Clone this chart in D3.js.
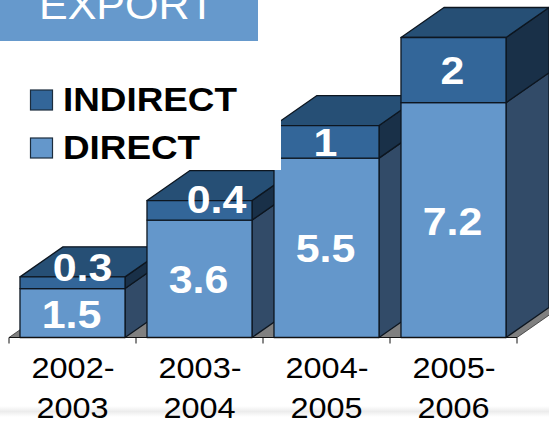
<!DOCTYPE html>
<html>
<head>
<meta charset="utf-8">
<script src="https://cdn.jsdelivr.net/npm/d3@7"></script>
<style>
  body { margin: 0; background: #fff; overflow: hidden; }
  text { font-family: "Liberation Sans", Arial, sans-serif; }
</style>
</head>
<body>
<div id="chart"></div>
<script>
const years = [["2002-", "2003"], ["2003-", "2004"], ["2004-", "2005"], ["2005-", "2006"]];
const direct = [1.5, 3.6, 5.5, 7.2];
// heights of the indirect segments as drawn, the printed labels differ on the small ones
const indirect = [0.36, 0.6, 1, 2];
const directLabels = ["1.5", "3.6", "5.5", "7.2"];
const indirectLabels = ["0.3", "0.4", "1", "2"];
const legendNames = ["INDIRECT", "DIRECT"];

const width = 549, height = 421;
const depthX = 43, depthY = 30;
const stretch = 1.1; // the picture is a bit wider than tall

const colors = {
  direct: {front: "#6497CB", side: "#324B68"},
  indirect: {front: "#336699", side: "#193048", top: "#264F75"}
};

const svg = d3.select("#chart").append("svg")
  .attr("width", width)
  .attr("height", height)
  .style("display", "block");

const fade = svg.append("defs").append("linearGradient")
  .attr("id", "fade").attr("x1", 0).attr("x2", 0).attr("y1", 0).attr("y2", 1);
fade.append("stop").attr("offset", "0%").attr("stop-color", "#fff");
fade.append("stop").attr("offset", "50%").attr("stop-color", "#ececec");
fade.append("stop").attr("offset", "100%").attr("stop-color", "#fff");

const x = d3.scaleBand().domain(d3.range(years.length)).range([9, 517])
  .paddingInner(0.173).paddingOuter(0.0865);
const y = d3.scaleLinear().domain([0, 9.2]).range([337.5, 37.5]);
const baseY = y(0);

// strip at the bottom of the slide
svg.append("rect").attr("x", 0).attr("y", 406).attr("width", width).attr("height", 11)
  .attr("fill", "url(#fade)");

// floor
svg.append("polygon")
  .attr("points", [[9, baseY], [9 + depthX, baseY - depthY], [517 + depthX, baseY - depthY], [517, baseY]].join(" "))
  .attr("fill", "#808080")
  .attr("stroke", "#333")
  .attr("stroke-width", 0.8);

function box(g, x0, x1, yBottom, yTop, c) {
  g.append("polygon")
    .attr("points", [[x1, yBottom], [x1 + depthX, yBottom - depthY], [x1 + depthX, yTop - depthY], [x1, yTop]].join(" "))
    .attr("fill", c.side);
  if (c.top) {
    g.append("polygon")
      .attr("points", [[x0, yTop], [x0 + depthX, yTop - depthY], [x1 + depthX, yTop - depthY], [x1, yTop]].join(" "))
      .attr("fill", c.top);
  }
  g.append("rect")
    .attr("x", x0).attr("y", yTop)
    .attr("width", x1 - x0).attr("height", yBottom - yTop)
    .attr("fill", c.front);
}

const bars = svg.selectAll(".bar").data(direct).join("g")
  .attr("class", "bar")
  .attr("stroke", "#0d1620")
  .attr("stroke-width", 1.3)
  .attr("stroke-linejoin", "round");

bars.each(function(d, i) {
  const g = d3.select(this);
  const x0 = x(i), x1 = x(i) + x.bandwidth();
  box(g, x0, x1, y(0), y(d), colors.direct);
  box(g, x0, x1, y(d), y(d + indirect[i]), colors.indirect);
});

// axis line and ticks at the band edges
const axisG = svg.append("g").attr("stroke", "#111").attr("stroke-width", 1);
axisG.append("line").attr("x1", 9).attr("x2", 517).attr("y1", baseY).attr("y2", baseY);
d3.range(years.length + 1).forEach(i => {
  const tx = 9 + i * x.step();
  axisG.append("line").attr("x1", tx).attr("x2", tx).attr("y1", baseY).attr("y2", baseY + 6);
});

// legend sits on a white box that hides part of the bars
svg.append("rect").attr("x", 0).attr("y", 41).attr("width", 281).attr("height", 129).attr("fill", "#fff");

function wideText(parent, tx, ty, str, size, weight, fill, anchor, sx) {
  return parent.append("text")
    .attr("transform", `translate(${tx},${ty}) scale(${sx || stretch},1)`)
    .attr("text-anchor", anchor || "middle")
    .attr("font-size", size)
    .attr("font-weight", weight)
    .attr("fill", fill)
    .text(str);
}

// value labels
direct.forEach((d, i) => {
  const cx = x(i) + x.bandwidth() / 2;
  wideText(svg, cx - 1, y(d / 2) + 14.5, directLabels[i], 39, "bold", "#fff");
  // small segments had their labels pulled onto the top face
  const small = indirect[i] < 1;
  const shiftX = small ? 10 + (i * 7) : -1;
  const shiftY = small ? (i === 0 ? -2 : 3) : 14;
  wideText(svg, cx + shiftX, y(d + indirect[i] / 2) + shiftY, indirectLabels[i], 39, "bold", "#fff");
});

// category labels
years.forEach((lines, i) => {
  const cx = x(i) + x.bandwidth() / 2;
  lines.forEach((s, k) => {
    wideText(svg, cx + (k === 0 ? 0.5 : 0), 378 + k * 40, s, 29.5, "normal", "#000");
  });
});

// legend
const legendY = d3.scalePoint().domain(legendNames).range([100, 148]);
const legendColors = [colors.indirect.front, colors.direct.front];
legendNames.forEach((name, i) => {
  svg.append("rect")
    .attr("x", 30.5).attr("y", legendY(name) - 10)
    .attr("width", 22).attr("height", 20)
    .attr("fill", legendColors[i])
    .attr("stroke", "#1c2c3c")
    .attr("stroke-width", 1.2);
  wideText(svg, 63, legendY(name) + 11, name, 33.5, "bold", "#000", "start");
});

// title bar, cut off by the top of the frame
svg.append("rect").attr("x", 0).attr("y", 0).attr("width", 258).attr("height", 41).attr("fill", "#6699CC");
wideText(svg, 127, 19, "EXPORT", 41, "normal", "#fff", "middle", 1.05);
</script>
</body>
</html>
